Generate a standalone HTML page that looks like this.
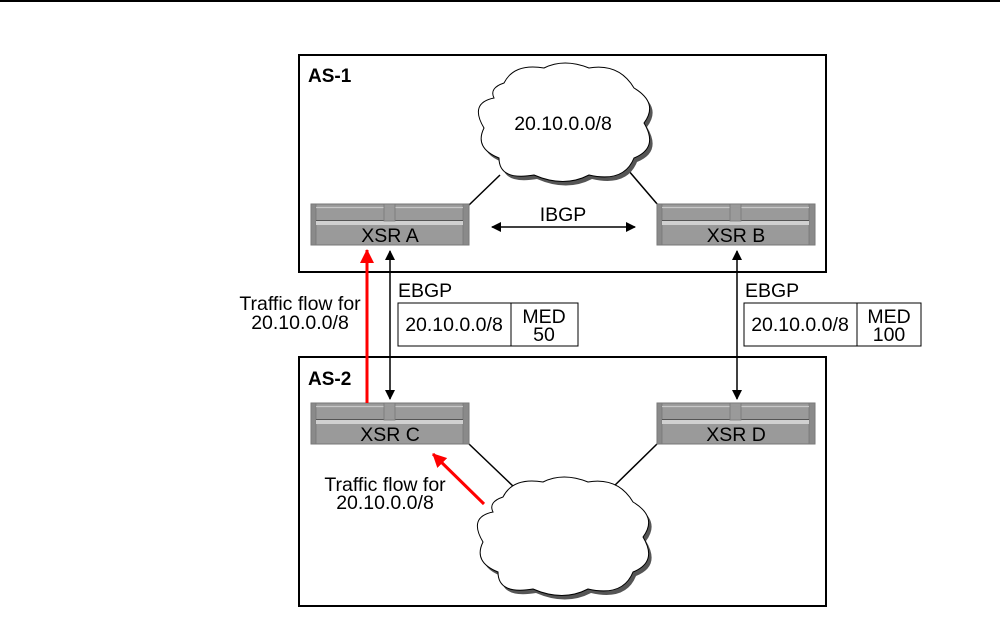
<!DOCTYPE html>
<html><head><meta charset="utf-8"><style>
html,body{margin:0;padding:0;background:#fff;}
svg{display:block;font-family:"Liberation Sans",Arial,sans-serif;}
</style></head><body>
<svg width="1008" height="618" viewBox="0 0 1008 618" xmlns="http://www.w3.org/2000/svg">
<defs>
<g id="router">
  <rect x="0" y="0" width="158" height="41" fill="#9a9a9a" stroke="#777" stroke-width="1"/>
  <rect x="0" y="0" width="5" height="41" fill="#8a8a8a" stroke="#777" stroke-width="0.8"/>
  <rect x="152" y="0" width="6" height="41" fill="#8a8a8a" stroke="#777" stroke-width="0.8"/>
  <line x1="5" y1="3.5" x2="152" y2="3.5" stroke="#c8c8c8" stroke-width="1.2"/>
  <rect x="5" y="17" width="147" height="4" fill="#d0d0d0"/>
  <line x1="5" y1="16.5" x2="152" y2="16.5" stroke="#555" stroke-width="1"/>
  <rect x="73" y="0" width="11" height="17" fill="#9a9a9a" stroke="#777" stroke-width="0.8"/>
</g>
<path id="cloud" d="M30,20 Q40,0 70,5 Q90,-5 115,5 Q145,0 160,25 Q185,40 170,60 Q185,85 160,95 Q150,120 115,112 Q90,125 60,112 Q25,118 25,95 Q0,85 10,65 Q-5,40 20,35 Q15,25 30,20 Z"/>
<marker id="ah" markerWidth="10" markerHeight="10" refX="9" refY="5" orient="auto-start-reverse" markerUnits="userSpaceOnUse"><path d="M0,0 L10,5 L0,10 Z" fill="#000"/></marker>
<marker id="ahr" markerWidth="14" markerHeight="14" refX="13" refY="7" orient="auto" markerUnits="userSpaceOnUse"><path d="M0,0 L14,7 L0,14 Z" fill="#f00"/></marker>
</defs>

<line x1="0" y1="1" x2="1000" y2="1" stroke="#000" stroke-width="2"/>

<rect x="299" y="55" width="527" height="217" fill="none" stroke="#000" stroke-width="2"/>
<rect x="299" y="357" width="527" height="249" fill="none" stroke="#000" stroke-width="2"/>
<text x="308" y="82" font-size="19" font-weight="bold">AS-1</text>
<text x="308" y="385" font-size="19" font-weight="bold">AS-2</text>

<line x1="469" y1="205" x2="500" y2="175" stroke="#000" stroke-width="1.5"/>
<line x1="628" y1="170" x2="658" y2="205" stroke="#000" stroke-width="1.5"/>
<line x1="469" y1="444" x2="515" y2="488" stroke="#000" stroke-width="1.5"/>
<line x1="657" y1="444" x2="610" y2="490" stroke="#000" stroke-width="1.5"/>

<g transform="translate(474,63)">
  <use href="#cloud" transform="translate(3,4)" fill="#555"/>
  <use href="#cloud" fill="#fff" stroke="#000" stroke-width="1"/>
</g>
<text x="563" y="130" font-size="19.5" text-anchor="middle">20.10.0.0/8</text>
<g transform="translate(473,477)">
  <use href="#cloud" transform="translate(3,4)" fill="#555"/>
  <use href="#cloud" fill="#fff" stroke="#000" stroke-width="1"/>
</g>

<use href="#router" x="311" y="204"/>
<use href="#router" x="657" y="204"/>
<use href="#router" x="311" y="403"/>
<use href="#router" x="657" y="403"/>
<text x="390" y="242" font-size="19.5" text-anchor="middle">XSR A</text>
<text x="736" y="242" font-size="19.5" text-anchor="middle">XSR B</text>
<text x="390" y="441" font-size="19.5" text-anchor="middle">XSR C</text>
<text x="736" y="441" font-size="19.5" text-anchor="middle">XSR D</text>

<text x="563" y="221" font-size="19.5" text-anchor="middle">IBGP</text>
<line x1="492" y1="227" x2="635" y2="227" stroke="#000" stroke-width="1.5" marker-start="url(#ah)" marker-end="url(#ah)"/>

<line x1="390" y1="251" x2="390" y2="399" stroke="#000" stroke-width="1.5" marker-start="url(#ah)" marker-end="url(#ah)"/>
<line x1="367" y1="403" x2="367" y2="250" stroke="#f00" stroke-width="3" marker-end="url(#ahr)"/>
<text x="398" y="297" font-size="19.5">EBGP</text>
<rect x="398" y="303" width="180" height="43" fill="#fff" stroke="#000" stroke-width="1"/>
<line x1="511" y1="303" x2="511" y2="346" stroke="#000" stroke-width="1"/>
<text x="454" y="331" font-size="19.5" text-anchor="middle">20.10.0.0/8</text>
<text x="544" y="323" font-size="19.5" text-anchor="middle">MED</text>
<text x="544" y="341" font-size="19.5" text-anchor="middle">50</text>

<text x="300" y="310" font-size="19.5" text-anchor="middle">Traffic flow for</text>
<text x="300" y="329" font-size="19.5" text-anchor="middle">20.10.0.0/8</text>

<line x1="737" y1="251" x2="737" y2="399" stroke="#000" stroke-width="1.5" marker-start="url(#ah)" marker-end="url(#ah)"/>
<text x="745" y="297" font-size="19.5">EBGP</text>
<rect x="744" y="303" width="177" height="43" fill="#fff" stroke="#000" stroke-width="1"/>
<line x1="857" y1="303" x2="857" y2="346" stroke="#000" stroke-width="1"/>
<text x="800" y="331" font-size="19.5" text-anchor="middle">20.10.0.0/8</text>
<text x="889" y="323" font-size="19.5" text-anchor="middle">MED</text>
<text x="889" y="341" font-size="19.5" text-anchor="middle">100</text>

<line x1="484" y1="504" x2="433" y2="454" stroke="#f00" stroke-width="3" marker-end="url(#ahr)"/>
<text x="385" y="491" font-size="19.5" text-anchor="middle">Traffic flow for</text>
<text x="385" y="509" font-size="19.5" text-anchor="middle">20.10.0.0/8</text>
</svg>
</body></html>
